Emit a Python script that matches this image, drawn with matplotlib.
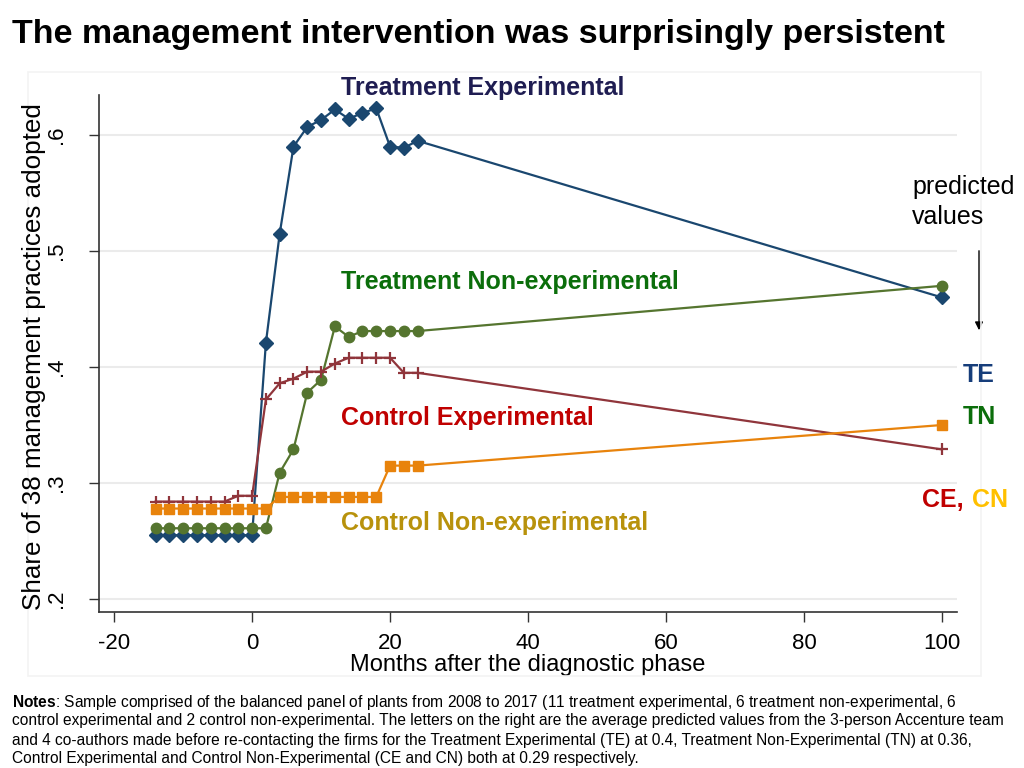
#!/usr/bin/env python

import matplotlib
matplotlib.use("Agg")
import matplotlib.pyplot as plt
from matplotlib.patches import Rectangle

# Months after the diagnostic phase (last point = predicted/long-run survey)
months = [-14, -12, -10, -8, -6, -4, -2, 0, 2, 4, 6, 8, 10, 12, 14, 16, 18, 20, 22, 24, 100]

treat_exp = [0.255, 0.255, 0.255, 0.255, 0.255, 0.255, 0.255, 0.255, 0.421, 0.515, 0.590,
             0.607, 0.613, 0.622, 0.614, 0.619, 0.623, 0.590, 0.589, 0.595, 0.460]
treat_nonexp = [0.261, 0.261, 0.261, 0.261, 0.261, 0.261, 0.261, 0.261, 0.261, 0.309, 0.329,
                0.378, 0.389, 0.435, 0.426, 0.431, 0.431, 0.431, 0.431, 0.431, 0.470]
control_exp = [0.284, 0.284, 0.284, 0.284, 0.284, 0.284, 0.289, 0.289, 0.372, 0.386, 0.390,
               0.396, 0.396, 0.403, 0.408, 0.408, 0.408, 0.408, 0.395, 0.395, 0.329]
control_nonexp = [0.278, 0.278, 0.278, 0.278, 0.278, 0.278, 0.278, 0.278, 0.278, 0.288, 0.288,
                  0.288, 0.288, 0.288, 0.288, 0.288, 0.288, 0.315, 0.315, 0.315, 0.350]

x_ticks = [-20, 0, 20, 40, 60, 80, 100]
y_ticks = [0.2, 0.3, 0.4, 0.5, 0.6]
y_tick_labels = [".2", ".3", ".4", ".5", ".6"]

NAVY = "#1a476f"
GREEN = "#55752f"
MAROON = "#90353b"
ORANGE = "#e8830c"

W, H = 1024, 768

plt.rcParams["font.family"] = ["Liberation Sans", "DejaVu Sans"]
plt.rcParams["mathtext.fontset"] = "custom"
plt.rcParams["mathtext.rm"] = "Liberation Sans"
plt.rcParams["mathtext.bf"] = "Liberation Sans:bold"

fig = plt.figure(figsize=(W / 100, H / 100), dpi=100)
fig.patch.set_facecolor("white")


def fx(px):
    return px / W


def fy(py):
    return 1 - py / H


# faint outer graph region border
fig.patches.append(Rectangle((fx(28), fy(676)), fx(981) - fx(28), fy(72) - fy(676),
                             transform=fig.transFigure, fill=False,
                             edgecolor="#f3f3f3", lw=1.2))

ax = fig.add_axes([fx(99), fy(612), fx(957) - fx(99), fy(95) - fy(612)])
ax.set_facecolor("white")

ax.plot(months, treat_exp, color=NAVY, lw=1.6, marker="D", ms=7, zorder=3)
ax.plot(months, treat_nonexp, color=GREEN, lw=1.6, marker="o", ms=7.5, zorder=3)
ax.plot(months, control_exp, color=MAROON, lw=1.6, marker="+", ms=9, mew=1.6, zorder=3)
ax.plot(months, control_nonexp, color=ORANGE, lw=1.6, marker="s", ms=6.5, zorder=3)

ax.set_xlim(-22.2, 102.2)
ax.set_ylim(0.1888, 0.6345)
ax.set_xticks(x_ticks)
ax.set_xticklabels([str(t) for t in x_ticks], fontsize=16)
ax.set_yticks(y_ticks)
ax.set_yticklabels(y_tick_labels, fontsize=16, rotation=90, va="center")
ax.tick_params(axis="both", direction="out", length=7, width=1, color="#333333")
ax.tick_params(axis="x", pad=8)
ax.tick_params(axis="y", pad=16)
ax.grid(axis="y", color="#ebebeb", lw=1.5)
ax.set_axisbelow(True)
for side in ["top", "right"]:
    ax.spines[side].set_visible(False)
for side in ["left", "bottom"]:
    ax.spines[side].set_color("#333333")
    ax.spines[side].set_linewidth(1.2)

ax.set_xlabel("Months after the diagnostic phase", fontsize=17, labelpad=0)
fig.text(fx(34), fy(357), "Share of 38 management practices adopted", fontsize=18.7,
         rotation=90, ha="center", va="center")

# title
fig.text(fx(12), fy(35), "The management intervention was surprisingly persistent",
         fontsize=24.5, fontweight="bold", ha="left", va="center")

# series labels
fig.text(fx(341), fy(88), "Treatment Experimental", color="#1f1d52",
         fontsize=18, fontweight="bold", va="center")
fig.text(fx(341), fy(282), "Treatment Non-experimental", color="#0b6e0b",
         fontsize=18, fontweight="bold", va="center")
fig.text(fx(341), fy(418), "Control Experimental", color="#c00000",
         fontsize=18, fontweight="bold", va="center")
fig.text(fx(341), fy(523), "Control Non-experimental", color="#b8920c",
         fontsize=18, fontweight="bold", va="center")

# predicted values annotation
fig.text(fx(912), fy(202), "predicted\nvalues", fontsize=18, va="center",
         linespacing=1.35)
ax.annotate("", xy=(979, H - 333), xytext=(979, H - 248),
            xycoords="figure pixels", textcoords="figure pixels",
            arrowprops=dict(arrowstyle="-|>", color="black", lw=1,
                            mutation_scale=12))
fig.text(fx(963), fy(375), "TE", color="#163d7a", fontsize=18,
         fontweight="bold", va="center")
fig.text(fx(963), fy(417), "TN", color="#0b6e0b", fontsize=18,
         fontweight="bold", va="center")
fig.text(fx(922), fy(500), "CE,", color="#c00000", fontsize=18,
         fontweight="bold", va="center")
fig.text(fx(972), fy(500), "CN", color="#ffc000", fontsize=18,
         fontweight="bold", va="center")

# notes
notes = [
    "Sample comprised of the balanced panel of plants from 2008 to 2017 (11 treatment "
    "experimental, 6 treatment non-experimental, 6",
    "control experimental and 2 control non-experimental. The letters on the right are the "
    "average predicted values from the 3-person Accenture team",
    "and 4 co-authors made before re-contacting the firms for the Treatment Experimental (TE) "
    "at 0.4, Treatment Non-Experimental (TN) at 0.36,",
    "Control Experimental and Control Non-Experimental (CE and CN) both at 0.29 respectively.",
]
note_y = [702, 721, 740, 758]
fig.text(fx(12), fy(note_y[0]), r"$\mathbf{Notes}$: " + notes[0], fontsize=11.2, va="center")
for line, y in zip(notes[1:], note_y[1:]):
    fig.text(fx(12), fy(y), line, fontsize=11.2, va="center")

fig.savefig("out.png", dpi=100, facecolor="white")
